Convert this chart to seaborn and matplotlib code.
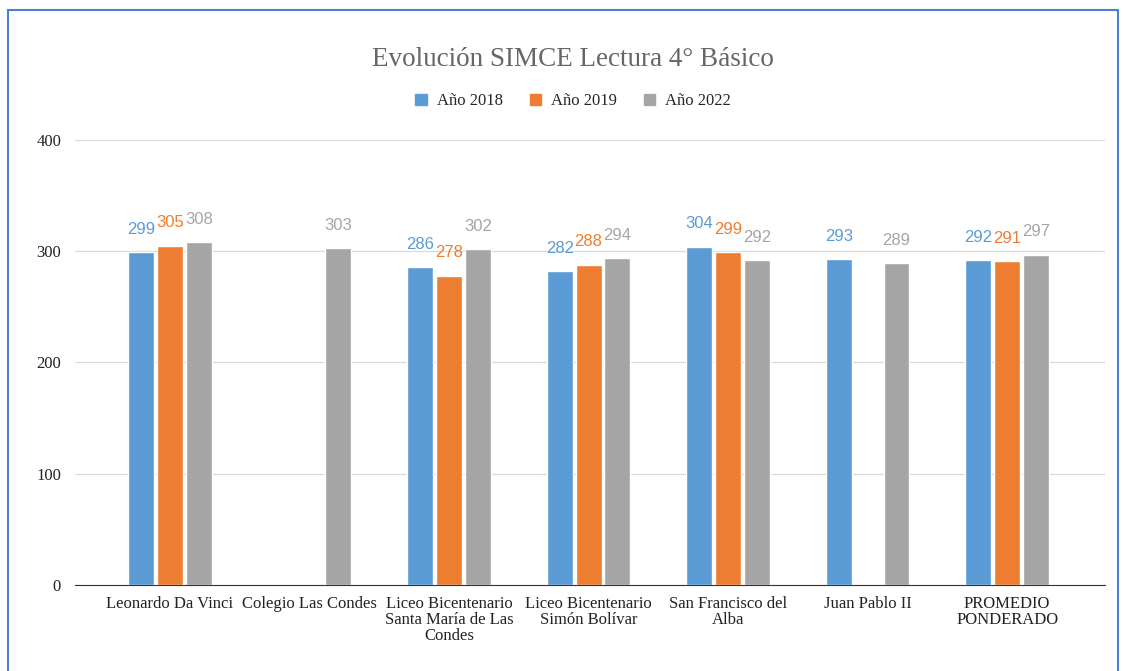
import numpy as np
import pandas as pd
import matplotlib
matplotlib.use("Agg")
import matplotlib.pyplot as plt
import matplotlib.patches as mpatches
import seaborn as sns

schools = ["Leonardo Da Vinci", "Colegio Las Condes",
           "Liceo Bicentenario\nSanta María de Las\nCondes",
           "Liceo Bicentenario\nSimón Bolívar", "San Francisco del\nAlba",
           "Juan Pablo II", "PROMEDIO\nPONDERADO"]
years = ["Año 2018", "Año 2019", "Año 2022"]
scores_2018 = [299, np.nan, 286, 282, 304, 293, 292]
scores_2019 = [305, np.nan, 278, 288, 299, np.nan, 291]
scores_2022 = [308, 303, 302, 294, 292, 289, 297]
colors = ["#5B9BD5", "#ED7D31", "#A5A5A5"]

df = pd.DataFrame({"school": schools * 3,
                   "year": [y for y in years for _ in schools],
                   "score": scores_2018 + scores_2019 + scores_2022})

sns.set_style("white")
plt.rcParams['font.family'] = ['Liberation Serif', 'DejaVu Serif']

fig = plt.figure(figsize=(11.24, 6.71), dpi=100)
ax = fig.add_axes([0.0667, 0.1282, 0.9163, 0.6632])

sns.barplot(data=df, x="school", y="score", hue="year", palette=colors,
            saturation=1, width=0.62, gap=0.1, ax=ax, legend=False)

# value labels
for cont, col in zip(ax.containers, colors):
    for bar in cont:
        h = bar.get_height()
        if np.isnan(h):
            continue
        ax.annotate(f"{int(h)}", (bar.get_x() + bar.get_width() / 2, h),
                    xytext=(0, 11), textcoords="offset points", ha="center",
                    va="bottom", color=col, fontsize=12,
                    family=["Liberation Sans", "DejaVu Sans"])

ax.set_ylim(0, 400)
ax.set_xlim(-0.68, 6.7)
ax.set_yticks([0, 100, 200, 300, 400])
ax.yaxis.grid(True, color="#d9d9d9", linewidth=0.9)
ax.set_axisbelow(True)
for s in ["left", "right", "top"]:
    ax.spines[s].set_visible(False)
ax.spines["bottom"].set_color("#333333")
ax.tick_params(axis="both", length=0, labelsize=12, colors="#222222")
ax.tick_params(axis="y", pad=10)
ax.tick_params(axis="x", pad=8)
ax.set_xlabel("")
ax.set_ylabel("")
for t in ax.get_xticklabels():
    t.set_linespacing(1.0)

fig.text(0.51, 0.912, "Evolución SIMCE Lectura 4° Básico", ha="center",
         va="center", fontsize=19.5, color="#666666")

handles = [mpatches.Patch(color=c, label=y) for c, y in zip(colors, years)]
fig.legend(handles=handles, loc="center", bbox_to_anchor=(0.51, 0.849), ncol=3,
           frameon=False, fontsize=12, handlelength=0.7, handleheight=0.7,
           columnspacing=1.6, handletextpad=0.6)

# outer blue frame
fig.patches.append(mpatches.Rectangle((0.0075, -0.02), 0.987, 1.005,
                                      transform=fig.transFigure, fill=False,
                                      edgecolor="#4a7fd4", linewidth=1.5))

fig.savefig("out.png", dpi=100)
